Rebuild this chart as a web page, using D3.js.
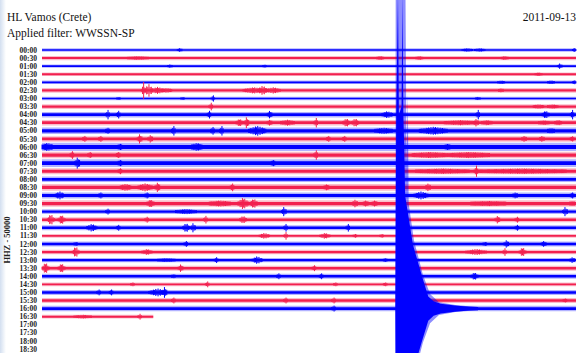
<!DOCTYPE html>
<html>
<head>
<meta charset="utf-8">
<script src="https://cdn.jsdelivr.net/npm/d3@7"></script>
<style>
  body { margin: 0; background: #fff; }
  svg { display: block; }
</style>
</head>
<body>
<script>
const width = 580;
const height = 353;

// row labels (start of each half-hour line)
const rowLabels = ["00:00","00:30","01:00","01:30","02:00","02:30","03:00","03:30","04:00","04:30",
  "05:00","05:30","06:00","06:30","07:00","07:30","08:00","08:30","09:00","09:30",
  "10:00","10:30","11:00","11:30","12:00","12:30","13:00","13:30","14:00","14:30",
  "15:00","15:30","16:00","16:30","17:00","17:30","18:00","18:30"];

// background noise level per line (counts, half amplitude)
const noiseLevel = [6000, 7500, 6000, 6500, 6500, 8500, 6000, 8500, 10000, 10000,
  12000, 10000, 15000, 12000, 14000, 11000, 10000, 12000, 11000, 12000,
  9000, 9000, 9000, 7000, 9000, 8000, 8000, 9000, 9000, 7000,
  9000, 9000, 10000, 7000];

// last minute recorded on each line
const lineEnd = rowLabels.map((d, i) => i < 33 ? 30 : (i === 33 ? 6.25 : 0));

// bursts: [line, minute, amplitude (counts), half duration (min)]
const bursts = [
  [0, 7.75, 12000, .15], [0, 23.9, 11000, .3], [0, 24.6, 11000, .3], [0, 29.9, 14000, .1],
  [1, 5.4, 12000, .6], [1, 19.0, 13000, .2], [1, 21.2, 12000, .2], [1, 26.0, 12000, .2],
  [2, 7.2, 11000, .15], [2, 12.5, 10000, .1], [2, 29.1, 18000, .15],
  [3, 27.9, 11000, .2],
  [4, 25.8, 11000, .2], [4, 28.6, 12000, .2], [4, 29.9, 14000, .1],
  [5, 5.7, 56000, .12], [5, 6.0, 40000, .25], [5, 6.5, 22000, .4], [5, 7.0, 14000, .3],
  [5, 11.9, 20000, .6], [5, 12.4, 30000, .3], [5, 13.0, 20000, .4], [5, 25.8, 12000, .15],
  [6, 4.3, 10000, .1], [6, 7.9, 10000, .1], [6, 9.6, 25000, .1], [6, 24.5, 10000, .15],
  [7, 9.5, 25000, .12], [7, 27.9, 13000, .3], [7, 28.7, 13000, .3],
  [8, 3.7, 31000, .12], [8, 4.3, 25000, .12], [8, 9.4, 25000, .12], [8, 12.8, 25000, .15],
  [8, 19.4, 22000, .3], [8, 24.5, 31000, .12], [8, 28.3, 25000, .2], [8, 29.8, 31000, .12],
  [9, 11.5, 37000, .15], [9, 11.1, 25000, .2], [9, 12.8, 19000, .15], [9, 13.8, 19000, .4],
  [9, 15.4, 31000, .12], [9, 17.1, 28000, .2], [9, 17.6, 28000, .2], [9, 23.5, 16000, .9],
  [9, 24.4, 25000, .15], [9, 25.0, 16000, .3], [9, 28.2, 14000, .3], [9, 29.0, 17000, .2],
  [10, 3.7, 19000, .12], [10, 7.4, 31000, .12], [10, 9.6, 25000, .12], [10, 10.1, 31000, .12],
  [10, 12.1, 31000, .5], [10, 19.2, 19000, .5], [10, 22.0, 25000, .8], [10, 28.6, 16000, .2],
  [11, 2.4, 19000, .12], [11, 3.3, 19000, .12], [11, 5.5, 31000, .15], [11, 6.1, 25000, .15],
  [11, 16.1, 19000, .12], [11, 17.0, 19000, .12], [11, 27.1, 19000, .15], [11, 28.1, 19000, .15],
  [11, 29.8, 17000, .12],
  [12, 0.3, 25000, .3], [12, 4.4, 19000, .12], [12, 8.7, 25000, .3], [12, 22.8, 19000, .15],
  [13, 1.7, 25000, .12], [13, 2.7, 19000, .12], [13, 4.3, 19000, .12], [13, 15.4, 31000, .12],
  [13, 21.8, 19000, 1.0], [13, 24.0, 19000, 1.2],
  [14, 2.0, 37000, .15], [14, 4.4, 19000, .12], [14, 13.0, 19000, .12],
  [15, 4.4, 19000, .12], [15, 22.5, 17000, 1.5], [15, 24.4, 37000, .12], [15, 27.0, 17000, 2.5],
  [17, 4.7, 22000, .3], [17, 5.8, 25000, .4], [17, 6.5, 31000, .15], [17, 10.7, 25000, .12],
  [17, 16.0, 19000, .15], [17, 21.7, 25000, .15],
  [18, 1.0, 25000, .25], [18, 3.3, 19000, .12], [18, 5.9, 19000, .12], [18, 21.3, 25000, .4],
  [18, 26.6, 19000, .15], [18, 29.8, 19000, .12],
  [19, 6.1, 25000, .2], [19, 10.0, 19000, .6], [19, 11.3, 37000, .3], [19, 11.9, 31000, .2],
  [19, 17.6, 25000, .15], [19, 18.2, 19000, .15], [19, 18.7, 19000, .15], [19, 25.1, 16000, 1.0],
  [19, 29.8, 14000, .15],
  [20, 3.7, 19000, .12], [20, 8.1, 16000, .6], [20, 13.6, 31000, .15], [20, 29.4, 31000, .15],
  [21, 0.5, 37000, .2], [21, 1.1, 31000, .2], [21, 5.9, 19000, .12], [21, 9.2, 25000, .12],
  [21, 11.3, 25000, .2], [21, 25.6, 25000, .15], [21, 26.7, 19000, .12],
  [22, 2.8, 25000, .3], [22, 4.3, 19000, .12], [22, 8.1, 31000, .2], [22, 8.5, 31000, .15],
  [22, 13.7, 25000, .12], [22, 17.2, 25000, .12], [22, 26.7, 19000, .12],
  [23, 12.5, 19000, .3], [23, 13.7, 25000, .12], [23, 15.9, 19000, .3], [23, 17.6, 12000, .12],
  [23, 19.1, 12000, .12],
  [24, 1.9, 12000, .1], [24, 8.1, 19000, .12], [24, 24.9, 12000, .12], [24, 26.1, 25000, .15],
  [24, 28.2, 19000, .15],
  [25, 1.9, 37000, .2], [25, 5.9, 19000, .3], [25, 24.4, 19000, .6], [25, 26.0, 25000, .12],
  [25, 27.0, 31000, .2],
  [26, 7.0, 12000, .5], [26, 9.8, 19000, .12], [26, 12.1, 25000, .3], [26, 19.3, 12000, .12],
  [26, 29.8, 19000, .15],
  [27, 0.2, 37000, .2], [27, 1.1, 31000, .2], [27, 7.8, 25000, .15], [27, 15.3, 19000, .12],
  [28, 7.4, 12000, .12], [28, 13.3, 19000, .12], [28, 15.7, 19000, .12], [28, 24.3, 25000, .2],
  [29, 5.1, 12000, .12], [29, 9.3, 19000, .12], [29, 16.5, 12000, .12], [29, 19.3, 12000, .12],
  [30, 3.2, 19000, .12], [30, 3.9, 19000, .12], [30, 6.5, 25000, .5], [30, 6.9, 37000, .15],
  [30, 21.2, 12000, .12],
  [31, 7.4, 19000, .12], [31, 13.7, 19000, .12], [31, 16.4, 19000, .12], [31, 29.4, 12000, .12],
  [32, 16.4, 19000, .12],
  [33, 2.3, 12000, .5], [33, 5.5, 19000, .12]
];

// earthquake on the 16:00 line: [minute, amplitude (counts)]
const quakeLine = 32;
const quakeCore = [[19.85, 10000], [19.9, 1200000], [20.0, 1950000], [20.05, 1200000],
  [20.2, 1250000], [20.25, 1950000], [20.3, 1200000], [20.35, 1000000], [20.4, 700000],
  [20.84, 395000], [21.35, 200000], [21.7, 75000], [22.0, 45000], [22.4, 30000],
  [23.2, 19000], [24.0, 12000], [24.5, 10000]];
const quakeHalo = [[19.85, 10000], [19.87, 1950000], [20.42, 1950000], [20.48, 900000],
  [20.55, 1330000], [20.6, 650000], [20.9, 420000], [21.4, 210000], [21.8, 90000],
  [22.3, 40000], [23.3, 20000], [24.5, 10000]];

const colors = ["#0000ff", "#f2204f"];

const svg = d3.select("body").append("svg")
  .attr("width", width)
  .attr("height", height);

svg.append("rect").attr("width", width).attr("height", height).attr("fill", "#fff");

// light strip on the left edge
const grad = svg.append("defs").append("linearGradient").attr("id", "edge");
grad.append("stop").attr("offset", 0).attr("stop-color", "#d3dff0");
grad.append("stop").attr("offset", 1).attr("stop-color", "#ffffff");
svg.append("rect").attr("x", 0).attr("y", 0).attr("width", 6).attr("height", height)
  .attr("fill", "url(#edge)");

// scales
const x = d3.scaleLinear().domain([0, 30]).range([42, 576]);
const y = d3.scalePoint().domain(rowLabels).range([50, 349]);
const step = y.step();
const amp = d3.scaleLinear().domain([0, 50000]).range([0, step]);

// a burst is drawn as a comb of thin vertical strokes under a triangular envelope
function spikes(b) {
  const [i, t, a, w] = b;
  const n = noiseLevel[i];
  const out = [];
  const dt = 0.065;
  let k = 0;
  for (let s = t - w; s <= t + w + 1e-9; s += dt, k++) {
    if (s < 0 || s > lineEnd[i]) continue;
    const f = 1 - Math.abs(s - t) / w;
    const h = n + (a - n) * f * (k % 2 ? 0.55 : 1);
    out.push({ i, t: s, h });
  }
  return out;
}

const traces = svg.append("g");
noiseLevel.forEach((n, i) => {
  const yc = y(rowLabels[i]);
  const band = [[0, n], [lineEnd[i], n]];
  const bandArea = k => d3.area().x(d => x(d[0]))
    .y0(d => yc - amp(d[1] * k)).y1(d => yc + amp(d[1] * k));
  // faint fringe of the noise, then the solid core
  traces.append("path")
    .datum(band)
    .attr("d", bandArea(1.7))
    .attr("fill", colors[i % 2])
    .attr("fill-opacity", 0.3);
  traces.append("path")
    .datum(band)
    .attr("d", bandArea(0.85))
    .attr("fill", colors[i % 2]);
});

traces.append("g").selectAll("line")
  .data(bursts.flatMap(spikes))
  .join("line")
  .attr("x1", d => x(d.t)).attr("x2", d => x(d.t))
  .attr("y1", d => y(rowLabels[d.i]) - amp(d.h))
  .attr("y2", d => y(rowLabels[d.i]) + amp(d.h))
  .attr("stroke", d => colors[d.i % 2])
  .attr("stroke-width", 1);

// earthquake
const yq = y(rowLabels[quakeLine]);
const qArea = d3.area().x(d => x(d[0])).y0(d => yq - amp(d[1])).y1(d => yq + amp(d[1]));
svg.append("path").datum(quakeHalo)
  .attr("d", qArea)
  .attr("fill", "#0000ff")
  .attr("fill-opacity", 0.45);
svg.append("path").datum(quakeCore)
  .attr("d", qArea)
  .attr("fill", "#0000ff");

// row labels
svg.append("g").selectAll("text")
  .data(rowLabels)
  .join("text")
  .attr("x", 37)
  .attr("y", d => y(d))
  .attr("dy", "0.35em")
  .attr("text-anchor", "end")
  .attr("font-family", "Liberation Serif, serif")
  .attr("font-weight", "bold")
  .attr("font-size", 7.5)
  .attr("fill", "#222")
  .text(d => d);

// titles
svg.append("text").attr("x", 7).attr("y", 21)
  .attr("font-family", "Liberation Serif, serif").attr("font-size", 11.5).attr("fill", "#111")
  .text("HL Vamos (Crete)");
svg.append("text").attr("x", 7).attr("y", 37)
  .attr("font-family", "Liberation Serif, serif").attr("font-size", 11.5).attr("fill", "#111")
  .text("Applied filter: WWSSN-SP");
svg.append("text").attr("x", 576).attr("y", 21).attr("text-anchor", "end")
  .attr("font-family", "Liberation Serif, serif").attr("font-size", 11.5).attr("fill", "#111")
  .text("2011-09-13");

// channel / scale label
svg.append("text")
  .attr("transform", "translate(10,240) rotate(-90)")
  .attr("text-anchor", "middle")
  .attr("font-family", "Liberation Serif, serif")
  .attr("font-weight", "bold")
  .attr("font-size", 8.5)
  .attr("fill", "#222")
  .text("HHZ - 50000");
</script>
</body>
</html>
